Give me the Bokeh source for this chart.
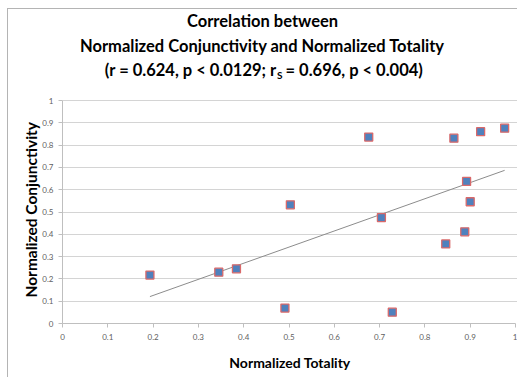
import numpy as np
from bokeh.plotting import figure
from bokeh.models import Range1d, FixedTicker, Label, ColumnDataSource, Title
from bokeh.embed import file_html
from bokeh.resources import INLINE

# data
totality = [0.193, 0.345, 0.384, 0.491, 0.503, 0.676, 0.864, 0.923, 0.976,
            0.892, 0.900, 0.704, 0.888, 0.846, 0.728]
conjunctivity = [0.217, 0.230, 0.245, 0.069, 0.532, 0.836, 0.831, 0.860, 0.876,
                 0.637, 0.546, 0.475, 0.411, 0.357, 0.051]
tick_values = [0, 0.1, 0.2, 0.3, 0.4, 0.5, 0.6, 0.7, 0.8, 0.9, 1]
tick_labels = ["0", "0.1", "0.2", "0.3", "0.4", "0.5", "0.6", "0.7", "0.8", "0.9", "1"]
title_lines = ["Correlation between",
               "Normalized Conjunctivity and Normalized Totality"]
stats_left = "(r = 0.624, p < 0.0129; r"
stats_sub = "S"
stats_right = "= 0.696, p < 0.004)"
x_title = "Normalized Totality"
y_title = "Normalized Conjunctivity"

FONT = "Lato"
W, H = 517, 377
X0, X1 = 62, 515          # page x of data 0 and 1
Y0, Y1 = 323, 100         # page y of data 0 and 1
TOP = 8                   # frame top (title lives inside the frame)
PX = X1 - X0
PY = Y0 - Y1

p = figure(width=W, height=H, output_backend="svg", toolbar_location=None,
           x_range=Range1d(0, (W - X0) / PX), y_range=Range1d(0, (Y0 - TOP) / PY),
           min_border_left=X0, min_border_right=0, min_border_top=TOP,
           min_border_bottom=H - Y0)
p.outline_line_color = None
p.background_fill_color = None
p.border_fill_color = None
p.styles = {
    "background": ("linear-gradient(#b4b4b4, #b4b4b4) 7px 8px / 1px 369px no-repeat, "
                   "linear-gradient(#b4b4b4, #b4b4b4) 7px 8px / 510px 1px no-repeat, white"),
}

# grid
p.xgrid.grid_line_color = None
p.ygrid.grid_line_color = "#d4d4d4"
p.ygrid.grid_line_width = 1

overrides = {v: l for v, l in zip(tick_values, tick_labels)}
for ax in (p.xaxis[0], p.yaxis[0]):
    ax.ticker = FixedTicker(ticks=tick_values)
    ax.major_label_overrides = overrides
    ax.bounds = (0, 1)
    ax.minor_tick_line_color = None
    ax.axis_line_color = "#bfbfbf"
    ax.major_tick_line_color = "#bfbfbf"
    ax.major_tick_in = 0
    ax.major_tick_out = 4
    ax.major_label_text_font = FONT
    ax.major_label_text_font_size = "8px"
    ax.major_label_text_color = "#606060"

p.xaxis.axis_label = x_title
p.xaxis.axis_label_text_font = FONT
p.xaxis.axis_label_text_font_style = "bold"
p.xaxis.axis_label_text_color = "black"
p.xaxis.axis_label_text_font_size = "14px"
p.xaxis.major_label_standoff = 6
p.xaxis.axis_label_standoff = 11
p.yaxis.major_label_standoff = 5

# y-axis title: a left-side Title, starting a little above the frame bottom
p.add_layout(Title(text=y_title, align="left", offset=26,
                   standoff=0, text_font=FONT, text_font_size="15.5px",
                   text_font_style="bold", text_color="black"), "left")

# trend line (least squares fit of the data)
slope, intercept = np.polyfit(totality, conjunctivity, 1)
xs = [min(totality), max(totality)]
p.line(xs, [slope * x + intercept for x in xs], line_color="#8c8c8c", line_width=1)

src = ColumnDataSource(dict(x=totality, y=conjunctivity))
p.scatter("x", "y", source=src, marker="square", size=8,
          fill_color="#4f81bd", line_color="#d9696a", line_width=1.3)

# title labels; screen units are measured from the frame's bottom-left corner
def lab(page_x, page_y, text, align, size):
    return Label(x=page_x - X0, y=Y0 - page_y, x_units="screen", y_units="screen",
                 text=text, text_align=align, text_baseline="middle", text_font=FONT,
                 text_font_size=size, text_font_style="bold", text_color="black")

cx = 262
TS = "16.5px"
p.add_layout(lab(cx, 20, title_lines[0], "center", TS))
p.add_layout(lab(cx, 45, title_lines[1], "center", TS))
p.add_layout(lab(276, 69, stats_left, "right", TS))
p.add_layout(lab(276.5, 74.5, stats_sub, "left", "10px"))
p.add_layout(lab(285, 69, stats_right, "left", TS))

open("out.html", "w").write(file_html(p, INLINE))
